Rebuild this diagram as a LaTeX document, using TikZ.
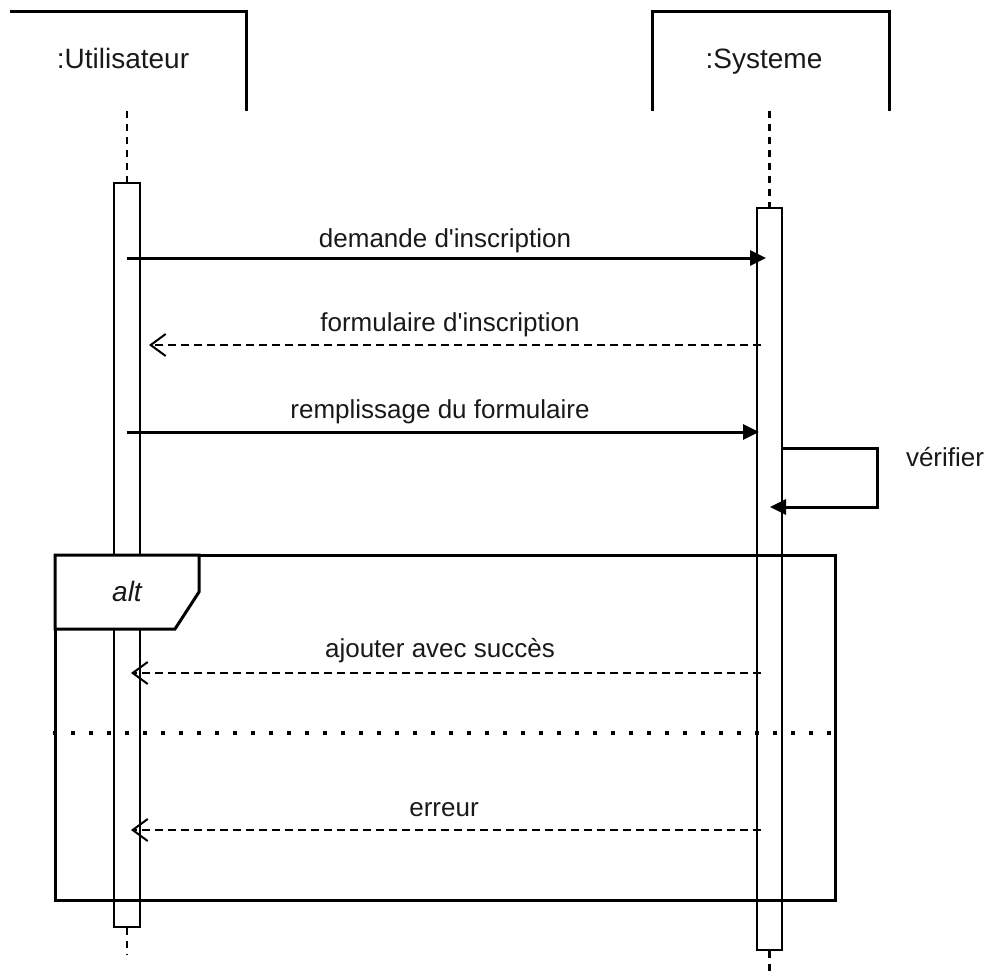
\documentclass[tikz,border=0pt]{standalone}
\usepackage{fontspec}
\setmainfont{Liberation Sans}
\usetikzlibrary{arrows.meta}
\begin{document}
\begin{tikzpicture}[x=1pt,y=-1pt,
  lbl/.style={font=\fontsize{26}{30}\selectfont, text=black!90, inner sep=0pt, anchor=base},
  hdr/.style={font=\fontsize{28}{32}\selectfont, text=black!90, inner sep=0pt, anchor=base},
  act/.style={draw, fill=white, line width=2pt, inner sep=0pt},
  life/.style={line width=2.5pt, dash pattern=on 7pt off 6pt},
  msg/.style={line width=3pt, -{Triangle[length=16pt,width=15pt]}},
  ret/.style={line width=2.5pt, dash pattern=on 8pt off 5pt, -{Straight Barb[length=15pt,width=22pt,line width=2pt]}},
  frm/.style={line width=3pt},
]
\useasboundingbox (0,0) rectangle (989,974);

% headers
\coordinate (hU1) at (10,12); \coordinate (hU2) at (246,12); \coordinate (hU3) at (246,111);
\draw[frm] (hU1) -- (hU2) -- (hU3);
\node[hdr] (hU) at (123,69) {:Utilisateur};
\coordinate (hS1) at (652,111); \coordinate (hS2) at (652,12); \coordinate (hS3) at (889,12); \coordinate (hS4) at (889,111);
\draw[frm] (hS1) -- (hS2) -- (hS3) -- (hS4);
\node[hdr] (hS) at (764,69) {:Systeme};

% activations
\node[act, minimum width=26pt, minimum height=744pt] (aU) at (127,555) {};
\node[act, minimum width=25pt, minimum height=742pt] (aS) at (769.5,579) {};

% lifelines
\coordinate (lU0) at (127,111); \coordinate (lU1) at (127,955);
\draw[life] (lU0) -- (aU.north); \draw[life] (aU.south) -- (lU1);
\coordinate (lS0) at (769.5,111); \coordinate (lS1) at (769.5,976);
\draw[life] (lS0) -- (aS.north); \draw[life] (aS.south) -- (lS1);

% messages
\coordinate (m1a) at (127,258); \coordinate (m1b) at (766,258);
\draw[msg] (m1a) -- (m1b);
\node[lbl] (t1) at (445,247) {demande d\textquotesingle inscription};

\coordinate (m2a) at (761,345); \coordinate (m2b) at (149,345);
\draw[ret] (m2a) -- (m2b);
\node[lbl] (t2) at (450,331) {formulaire d\textquotesingle inscription};

\coordinate (m3a) at (127,432); \coordinate (m3b) at (759,432);
\draw[msg] (m3a) -- (m3b);
\node[lbl] (t3) at (440,418) {remplissage du formulaire};

\coordinate (s0) at (782,448); \coordinate (s1) at (877,448); \coordinate (s2) at (877,507); \coordinate (s3) at (770,507);
\draw[msg] (s0) -- (s1) -- (s2) -- (s3);
\node[lbl] (t4) at (945,466) {vérifier};

% alt frame
\draw[frm] (55,555) rectangle (835,900);
\coordinate (g0) at (55,555); \coordinate (g1) at (199,555); \coordinate (g2) at (199,592); \coordinate (g3) at (175,629); \coordinate (g4) at (55,629);
\draw[frm, fill=white] (g0) -- (g1) -- (g2) -- (g3) -- (g4) -- cycle;
\node[lbl, font=\fontsize{28}{32}\selectfont\itshape] (alt) at (127,601) {alt};

\coordinate (m5a) at (761,673); \coordinate (m5b) at (131,673);
\draw[ret] (m5a) -- (m5b);
\node[lbl] (t5) at (440,657) {ajouter avec succès};

\coordinate (d0) at (53,733); \coordinate (d1) at (835,733);
\draw[line width=4pt, dash pattern=on 4pt off 14pt] (d0) -- (d1);

\coordinate (m6a) at (761,830); \coordinate (m6b) at (131,830);
\draw[ret] (m6a) -- (m6b);
\node[lbl] (t6) at (444,816) {erreur};
\end{tikzpicture}
\end{document}
